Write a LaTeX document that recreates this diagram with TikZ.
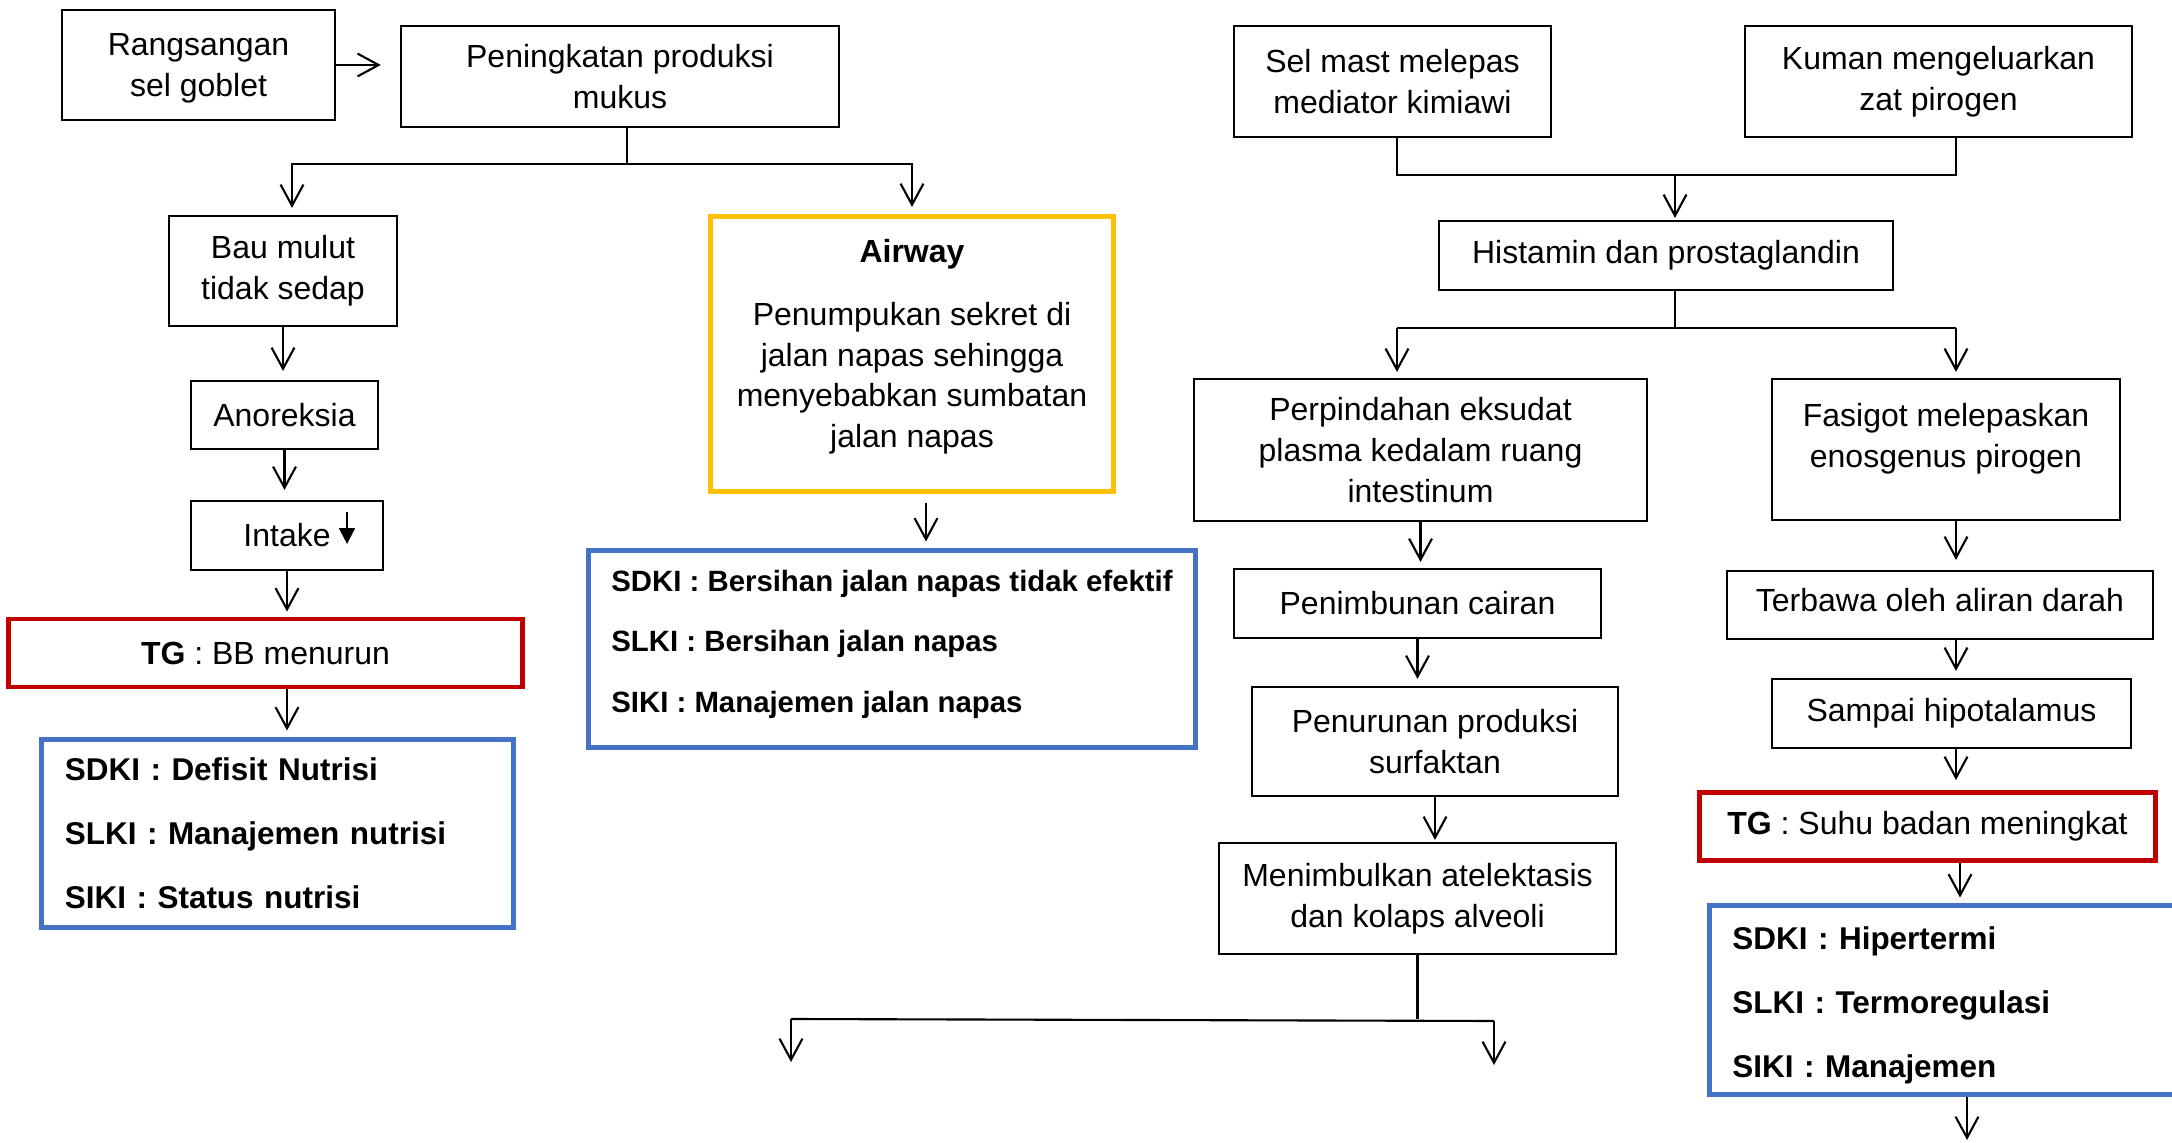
\documentclass[tikz,border=0pt]{standalone}
\usepackage{fontspec}
\setmainfont{Liberation Sans}
\usetikzlibrary{arrows.meta}
\definecolor{tgred}{HTML}{C00000}
\definecolor{airyellow}{HTML}{FFC000}
\definecolor{diagblue}{HTML}{4472C4}
\newcommand{\txtnorm}{\fontsize{9.1}{11.6}\selectfont}
\newcommand{\txtbold}{\fontsize{8.95}{11.4}\selectfont\bfseries}
\newcommand{\txtsmall}{\fontsize{8.35}{10.4}\selectfont\bfseries}

\begin{document}
\begin{tikzpicture}[x=0.01cm, y=-0.01cm,
    box/.style={draw, line width=0.6pt, align=center, font=\txtnorm, inner sep=2pt},
    tgbox/.style={box, draw=tgred, line width=1.4pt},
    diagbox/.style={draw=diagblue, line width=1.4pt, align=left, font=\txtbold, inner ysep=0pt},
    arr/.style={-{Straight Barb[length=6pt,width=6.5pt]}, line width=0.6pt, shorten >=0.07cm},
    link/.style={line width=0.6pt}]

    \useasboundingbox (0,0) rectangle (2172,1143);

    % Nodes
    \node[box, text depth=0pt, minimum width=2.73cm, minimum height=1.10cm] (rang) at (198.5,65) {Rangsangan\\sel goblet};
    \node[box, minimum width=4.38cm, minimum height=1.01cm] (pen) at (620,76.5) {Peningkatan produksi\\mukus};
    \node[box, minimum width=2.28cm, minimum height=1.10cm] (bau) at (283,271) {Bau mulut\\tidak sedap};
    \node[box, minimum width=1.87cm, minimum height=0.68cm] (ano) at (284.5,415) {Anoreksia};
    \node[box, minimum width=1.92cm, minimum height=0.69cm] (intake) at (287,535.5) {Intake};
    \node[tgbox, minimum width=5.14cm, minimum height=0.68cm] (tg1) at (265.5,653) {\textbf{TG} : BB menurun};
    \node[diagbox, inner xsep=0.235cm, text width=4.25cm, minimum height=1.88cm] (diag1) at (277.5,833.5)
        {SDKI : Defisit Nutrisi\\[6.8pt]SLKI : Manajemen nutrisi\\[6.8pt]SIKI : Status nutrisi};

    \node[box, draw=airyellow, line width=1.4pt, text depth=6pt, minimum width=4.03cm, minimum height=2.75cm] (airway) at (912,354)
        {\textbf{Airway}\\[6.3pt]Penumpukan sekret di\\jalan napas sehingga\\menyebabkan sumbatan\\jalan napas};
    \node[diagbox, font=\txtsmall, text depth=4.6pt, minimum width=6.07cm, minimum height=1.97cm] (diag2) at (892,649)
        {SDKI : Bersihan jalan napas tidak efektif\\[6.8pt]SLKI : Bersihan jalan napas\\[6.8pt]SIKI : Manajemen jalan napas};

    \node[box, minimum width=3.17cm, minimum height=1.11cm] (mast) at (1392.5,81.5) {Sel mast melepas\\mediator kimiawi};
    \node[box, minimum width=3.87cm, minimum height=1.11cm] (kuman) at (1938.5,81.5) {Kuman mengeluarkan\\zat pirogen};
    \node[box, minimum width=4.54cm, minimum height=0.69cm] (hist) at (1666,255.5) {Histamin dan prostaglandin};
    \node[box, minimum width=4.53cm, minimum height=1.42cm] (perp) at (1420.5,450) {Perpindahan eksudat\\plasma kedalam ruang\\intestinum};
    \node[box, text depth=8pt, minimum width=3.48cm, minimum height=1.41cm] (fasigot) at (1946,449.5) {Fasigot melepaskan\\enosgenus pirogen};
    \node[box, minimum width=3.67cm, minimum height=0.69cm] (penim) at (1417.5,603.5) {Penimbunan cairan};
    \node[box, minimum width=3.66cm, minimum height=1.09cm] (penur) at (1435,741.5) {Penurunan produksi\\surfaktan};
    \node[box, minimum width=3.97cm, minimum height=1.11cm] (menim) at (1417.5,898.5) {Menimbulkan atelektasis\\dan kolaps alveoli};
    \node[box, text depth=2.8pt, minimum width=4.26cm, minimum height=0.68cm] (terbawa) at (1940,605) {Terbawa oleh aliran darah};
    \node[box, minimum width=3.59cm, minimum height=0.69cm] (sampai) at (1951.5,713.5) {Sampai hipotalamus};
    \node[tgbox, minimum width=4.56cm, minimum height=0.68cm] (tg2) at (1927.5,826.5) {\textbf{TG} : Suhu badan meningkat};
    \node[diagbox, text height=9.5pt, inner xsep=0.225cm, text width=4.35cm, minimum height=1.89cm] (diag3) at (1950,1000)
        {SDKI : Hipertermi\\[6.8pt]SLKI : Termoregulasi\\[6.8pt]SIKI : Manajemen};

    % Edges (left)
    \draw[arr, shorten >=0.19cm] (rang.east) -- (rang.east -| pen.west);
    \coordinate (s1) at (627,164);
    \draw[link] (s1 |- pen.south) -- (s1);
    \draw[arr] (s1) -| ([xshift=0.09cm]bau.north);
    \draw[arr] (s1) -| (airway.north);
    \draw[arr, shorten >=0.09cm] (bau.south) -- (bau.south |- ano.north);
    \draw[arr, shorten >=0.10cm] (ano.south) -- (ano.south |- intake.north);
    \draw[line width=0.6pt, -{Triangle[length=4.5pt,width=4.5pt]}] ([xshift=0.6cm,yshift=0.235cm]intake.center) -- ++(0,32);
    \draw[arr, shorten >=0.05cm] (intake.south) -- (intake.south |- tg1.north);
    \draw[arr, shorten >=0.065cm] (intake.south |- tg1.south) -- (intake.south |- diag1.north);

    % Edges (middle)
    \draw[arr, shorten <=0.085cm, shorten >=0.065cm] ([xshift=0.14cm]airway.south) -- ([xshift=0.14cm]airway.south |- diag2.north);

    % Edges (right)
    \coordinate (m1) at (1397,175);
    \coordinate (k1) at (1956,175);
    \coordinate (s2) at (1675,175);
    \draw[link] (m1 |- mast.south) -- (m1) -- (k1) -- (k1 |- kuman.south);
    \draw[arr, shorten >=0.02cm] (s2) -- (s2 |- hist.north);
    \coordinate (h1) at (1397,328);
    \coordinate (h2) at (1956,328);
    \draw[link] (s2 |- hist.south) -- (s2 |- h1);
    \draw[link] (h1) -- (h2);
    \draw[arr, shorten >=0.06cm] (h1) -- (h1 |- perp.north);
    \draw[arr, shorten >=0.06cm] (h2) -- (h2 |- fasigot.north);

    \draw[arr, shorten >=0.06cm] (perp.south) -- (perp.south |- penim.north);
    \draw[arr, shorten >=0.07cm] (penim.south) -- (penim.south |- penur.north);
    \draw[arr, shorten >=0.02cm] (penur.south) -- (penur.south |- menim.north);
    \coordinate (a1) at (791,1019);
    \coordinate (a2) at (1494,1021);
    \coordinate (t1) at (791,1062);
    \coordinate (t2) at (1494,1065);
    \draw[link] (menim.south) -- (menim.south |- a1);
    \draw[link] (a1) -- (a2);
    \draw[arr, shorten >=0pt] (a1) -- (t1);
    \draw[arr, shorten >=0pt] (a2) -- (t2);

    \coordinate (c3) at (1956,0);
    \draw[arr, shorten >=0.10cm] (c3 |- fasigot.south) -- (c3 |- terbawa.north);
    \draw[arr, shorten >=0.07cm] (c3 |- terbawa.south) -- (c3 |- sampai.north);
    \draw[arr, shorten >=0.10cm] (c3 |- sampai.south) -- (c3 |- tg2.north);
    \coordinate (c4) at (1960,0);
    \draw[arr, shorten >=0.055cm] (c4 |- tg2.south) -- (c4 |- diag3.north);
    \coordinate (out) at (1967,1140);
    \draw[arr, shorten >=0pt] (out |- diag3.south) -- (out);
\end{tikzpicture}
\end{document}
